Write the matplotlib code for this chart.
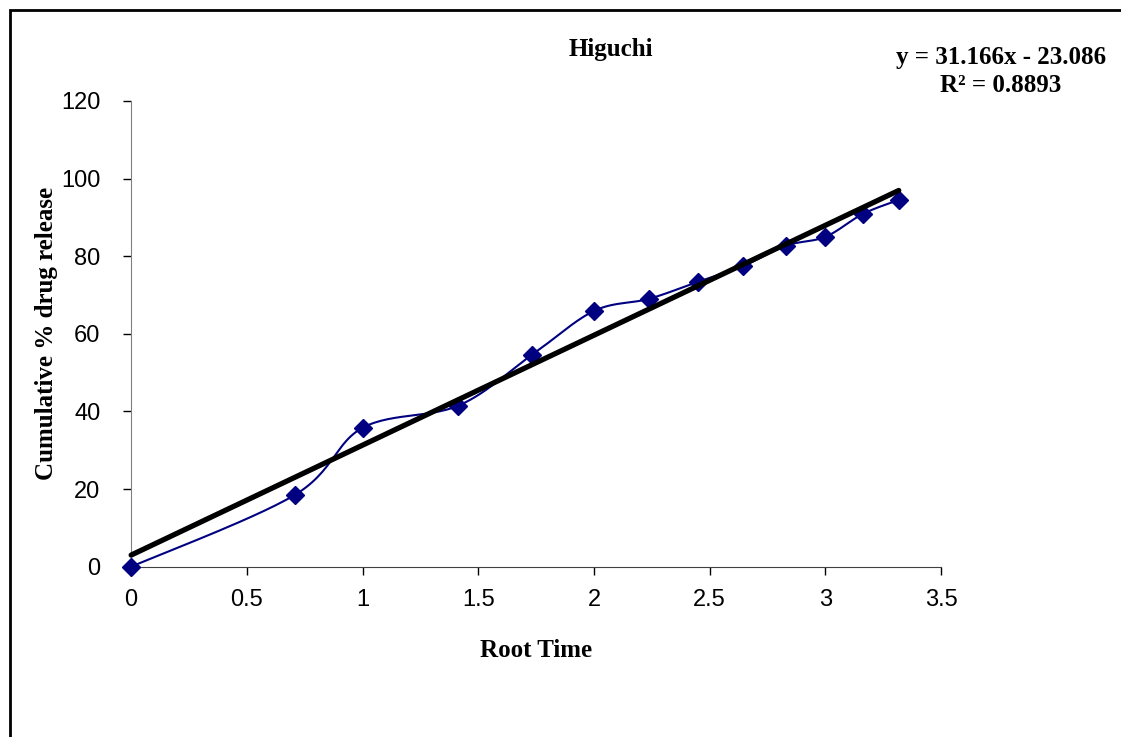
import numpy as np
import matplotlib.pyplot as plt
from matplotlib.patches import Rectangle

# data
root_time = [0, 0.707, 1.0, 1.414, 1.732, 2.0, 2.236, 2.449, 2.646, 2.828, 3.0, 3.162, 3.317]
release = [0, 18.5, 35.8, 41.5, 54.6, 65.9, 69.0, 73.4, 77.5, 82.7, 85.0, 90.9, 94.5]
x_ticks = [0, 0.5, 1, 1.5, 2, 2.5, 3, 3.5]
y_ticks = [0, 20, 40, 60, 80, 100, 120]
title = "Higuchi"
eq_text = "y = 31.166x - 23.086\nR² = 0.8893"

plt.rcParams['font.family'] = ['Liberation Sans', 'DejaVu Sans']


def smooth(x, y, n=30):
	# excel style smoothed line (bezier through the points)
	x = np.asarray(x, float)
	y = np.asarray(y, float)
	px, py = [], []
	for i in range(len(x) - 1):
		i0 = max(i - 1, 0)
		i3 = min(i + 2, len(x) - 1)
		c1x = x[i] + (x[i + 1] - x[i0]) / 6
		c1y = y[i] + (y[i + 1] - y[i0]) / 6
		c2x = x[i + 1] - (x[i3] - x[i]) / 6
		c2y = y[i + 1] - (y[i3] - y[i]) / 6
		t = np.linspace(0, 1, n)
		a = (1 - t) ** 3
		b = 3 * (1 - t) ** 2 * t
		c = 3 * (1 - t) * t ** 2
		d = t ** 3
		px.extend(a * x[i] + b * c1x + c * c2x + d * x[i + 1])
		py.extend(a * y[i] + b * c1y + c * c2y + d * y[i + 1])
	return px, py


def draw():
	fig = plt.figure(figsize=(11.21, 7.37), dpi=100)
	ax = fig.add_axes([0.117, 0.231, 0.7225, 0.632])

	sx, sy = smooth(root_time, release)
	ax.plot(sx, sy, color="#000080", lw=1.5, zorder=2)
	ax.plot(root_time, release, ls="none", marker="D", ms=9, color="#000080", zorder=3)

	# linear trendline
	k, b = np.polyfit(root_time, release, 1)
	tx = np.array([0, root_time[-1]])
	ax.plot(tx, k * tx + b, color="black", lw=3.8, zorder=4, solid_capstyle="round")

	ax.set_xlim(0, 3.5)
	ax.set_ylim(0, 120)
	ax.set_xticks(x_ticks)
	ax.set_xticklabels([f"{v:g}" for v in x_ticks])
	ax.set_yticks(y_ticks)
	ax.tick_params(labelsize=17, length=6, width=1)
	ax.tick_params(axis="y", pad=16)
	ax.tick_params(axis="x", pad=10)
	ax.spines["top"].set_visible(False)
	ax.spines["right"].set_visible(False)
	ax.spines["left"].set_color("#808080")
	ax.spines["bottom"].set_color("#404040")
	for line in ax.lines:
		line.set_clip_on(False)

	serif = dict(family="Liberation Serif", weight="bold")
	ax.set_xlabel("Root Time", fontsize=18, labelpad=20, **serif)
	ax.set_ylabel("Cumulative % drug release", fontsize=18, labelpad=2, **serif)
	fig.text(0.545, 0.933, title, ha="center", va="center", fontsize=18, **serif)
	fig.text(0.893, 0.903, eq_text, ha="center", va="center", fontsize=18,
		linespacing=1.25, **serif)

	# chart area border (right/bottom edges are outside the image)
	fig.add_artist(Rectangle((0.009, -0.1), 1.5, 0.1 + 0.9864, transform=fig.transFigure,
		fill=False, edgecolor="black", lw=2))

	fig.savefig("out.png", dpi=100)


if __name__ == '__main__':
	draw()
